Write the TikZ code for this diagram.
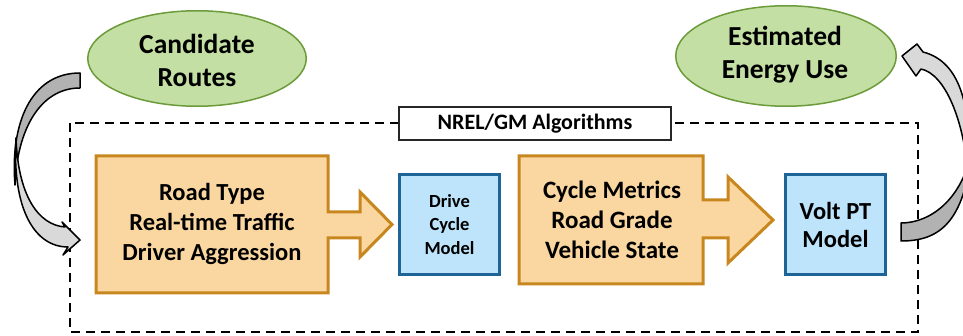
\documentclass[tikz,border=0pt]{standalone}
\usepackage{fontspec}
\setmainfont{Carlito}
\usetikzlibrary{shapes.geometric}
\definecolor{gfill}{HTML}{C4DFA3}
\definecolor{gdraw}{HTML}{6B9B3A}
\definecolor{ofill}{HTML}{FAD7A0}
\definecolor{odraw}{HTML}{C8871E}
\definecolor{bfill}{HTML}{BDE4FA}
\definecolor{bdraw}{HTML}{1F6496}
\tikzset{
  oval/.style={ellipse, draw=gdraw, fill=gfill, line width=1.5pt, inner sep=0pt},
  ovaltext/.style={align=center, font=\fontsize{27.5}{33}\selectfont\bfseries},
  obox/.style={draw=odraw, fill=ofill, line width=3pt, line join=miter},
  otext/.style={align=center, font=\fontsize{24.5}{30}\selectfont\bfseries},
  bbox/.style={rectangle, draw=bdraw, fill=bfill, line width=3pt, minimum width=100pt, minimum height=100pt, inner sep=0pt, align=center},
  backband/.style={draw=black, fill=black!30, line width=1.5pt, line join=round},
  frontband/.style={draw=black, fill=black!15, line width=1.5pt, line join=round},
  frame/.style={draw=black, line width=2pt, dash pattern=on 9pt off 6pt},
  titlebox/.style={rectangle, draw=black!85, fill=white, line width=1.5pt, minimum width=272pt, minimum height=33pt, inner sep=0pt, font=\fontsize{22}{26}\selectfont\bfseries}
}
\begin{document}
\begin{tikzpicture}[x=1pt,y=-1pt]
\useasboundingbox (0,0) rectangle (963,336);
% dashed frame
\draw[frame] (70,123) rectangle (918,332);
\node[titlebox] (title) at (535,123.5) {NREL/GM Algorithms};
% ovals
\node[oval, minimum width=218.5pt, minimum height=95.5pt] (cand) at (197,58.5) {};
\node[ovaltext] (candt) at (197,60) {Candidate\\Routes};
\node[oval, minimum width=220.5pt, minimum height=100.5pt] (est) at (786,56) {};
\node[ovaltext] (estt) at (785,55) {Estimated\\Energy Use};
% orange block arrows
\path[obox] (96,156) -- (328,156) -- (328,212) -- (360,212) -- (360,192) -- (392,224.5) -- (360,257) -- (360,238) -- (328,238) -- (328,293) -- (96,293) -- cycle;
\node[otext] (inputs) at (212,224) {Road Type\\Real-time Traffic\\Driver Aggression};
\path[obox] (519,156) -- (703,156) -- (703,200) -- (728,200) -- (728,177) -- (773,220) -- (728,263) -- (728,238) -- (703,238) -- (703,284) -- (519,284) -- cycle;
\node[otext, font=\fontsize{25}{30}\selectfont\bfseries] (metrics) at (612,220) {Cycle Metrics\\Road Grade\\Vehicle State};
% blue boxes
\node[bbox, font=\fontsize{18.5}{23.3}\selectfont\bfseries] (drive) at (449.5,224.5) {Drive\\Cycle\\Model};
\node[bbox, font=\fontsize{24.5}{28}\selectfont\bfseries] (volt) at (835.5,224.5) {Volt PT\\Model};
% left curved arrow (back band, then front band with head)
\path[backband]
  (80,73) -- (80,88) .. controls (40,88) and (17,130) .. (15,185)
  .. controls (10,125) and (30,73) .. (80,73) -- cycle;
\path[frontband]
  (16,138) .. controls (12,210) and (35,247) .. (68,247)
  -- (63,255) -- (80,240) -- (62,222) -- (65,227)
  .. controls (38,225) and (18,195) .. (16,138) -- cycle;
% right curved arrow
\path[backband]
  (901,241) .. controls (940,241) and (964,222) .. (972,150)
  .. controls (962,200) and (930,223) .. (901,223) -- cycle;
\path[frontband]
  (968,175) .. controls (972,110) and (962,62) .. (923,52)
  -- (917,44) -- (902,56) -- (916,76) -- (921,69)
  .. controls (945,74) and (964,120) .. (968,175) -- cycle;
\end{tikzpicture}
\end{document}
